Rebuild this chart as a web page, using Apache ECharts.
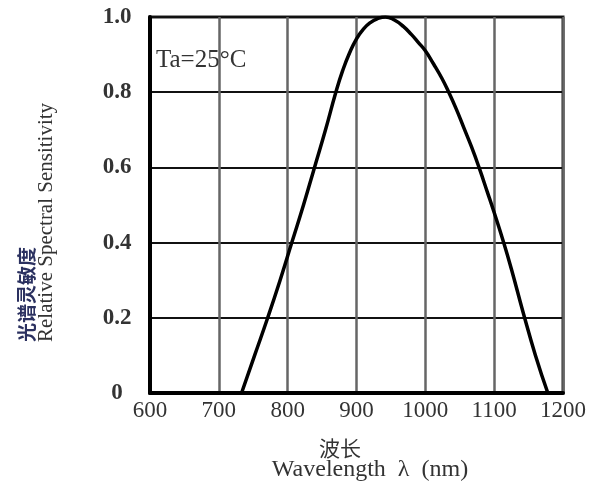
<!DOCTYPE html>
<html>
<head>
<meta charset="utf-8">
<script src="https://cdn.jsdelivr.net/npm/echarts@6/dist/echarts.min.js"></script>
<style>html,body{margin:0;padding:0;background:#fff;}#c{width:606px;height:491px;}</style>
</head>
<body>
<div id="c"></div>
<script>
var wavelength = [733, 752, 771, 789, 806, 823, 839, 855, 870, 880, 890, 900, 910, 920, 930, 942, 955, 968, 980, 990, 1000, 1012, 1024, 1034, 1045, 1056, 1067, 1078, 1090, 1100, 1113, 1125, 1142, 1160, 1178];
var sensitivity = [0, 0.1, 0.2, 0.3, 0.4, 0.5, 0.6, 0.7, 0.8, 0.858, 0.905, 0.942, 0.968, 0.985, 0.995, 1.0, 0.992, 0.975, 0.953, 0.932, 0.91, 0.875, 0.837, 0.8, 0.755, 0.705, 0.655, 0.6, 0.535, 0.48, 0.405, 0.33, 0.215, 0.1, 0];
var xTicks = [600, 700, 800, 900, 1000, 1100, 1200];
var yTickLabels = {0: '0', 0.2: '0.2', 0.4: '0.4', 0.6: '0.6', 0.8: '0.8', 1: '1.0'};

var serif = '"Liberation Serif","DejaVu Serif",serif';
var chart = echarts.init(document.getElementById('c'));
var pts = wavelength.map(function (w, i) { return [w, sensitivity[i]]; });
chart.setOption({
  animation: false,
  grid: { left: 150, right: 43, top: 17, bottom: 98, show: true, borderColor: '#222', borderWidth: 3 },
  xAxis: {
    type: 'value', min: xTicks[0], max: xTicks[xTicks.length - 1], interval: 100,
    axisLine: { show: true, onZero: false, lineStyle: { color: '#000', width: 4 } },
    axisTick: { show: false },
    splitLine: { show: true, lineStyle: { color: '#666', width: 2.5 } },
    axisLabel: { color: '#333', fontFamily: serif, fontSize: 23, margin: 6, formatter: function (v) { return String(v); } }
  },
  yAxis: {
    type: 'value', min: 0, max: 1, interval: 0.2,
    axisLine: { show: true, lineStyle: { color: '#000', width: 4 } },
    axisTick: { show: false },
    splitLine: { show: true, lineStyle: { color: '#111', width: 2 } },
    axisLabel: {
      color: '#333', fontFamily: serif, fontSize: 23, fontWeight: 'bold', margin: 33, align: 'center',
      formatter: function (v) { var k = Math.round(v * 10) / 10; return yTickLabels[k] !== undefined ? yTickLabels[k] : String(v); }
    }
  },
  series: [{
    type: 'line', data: pts, smooth: 0.5, showSymbol: false,
    lineStyle: { color: '#000', width: 3.5 }
  }],
  graphic: [
    { type: 'text', left: 156, top: 48, style: { text: 'Ta=25°C', font: '25px ' + serif, fill: '#333' } },
    { type: 'text', x: 27, y: 342, rotation: Math.PI / 2, style: { text: '光谱灵敏度', font: 'bold 19px "Noto Sans CJK SC"', fill: '#2b3160', textAlign: 'left', textVerticalAlign: 'middle' } },
    { type: 'text', x: 46, y: 342, rotation: Math.PI / 2, style: { text: 'Relative Spectral Sensitivity', font: '21px ' + serif, fill: '#333', textAlign: 'left', textVerticalAlign: 'middle' } },
    { type: 'text', x: 340, y: 448, style: { text: '波长', font: '21px "Noto Sans CJK SC"', fill: '#333', textAlign: 'center', textVerticalAlign: 'middle' } },
    { type: 'text', x: 370, y: 470, style: { text: 'Wavelength  λ  (nm)', font: '24px ' + serif, fill: '#333', textAlign: 'center', textVerticalAlign: 'middle' } }
  ]
});
</script>
</body>
</html>
